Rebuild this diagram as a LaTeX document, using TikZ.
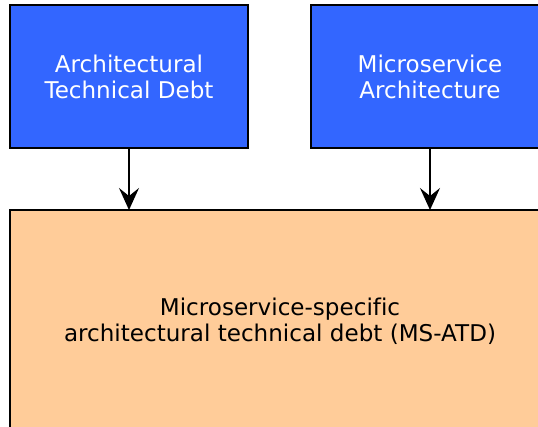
\documentclass[tikz,border=0pt]{standalone}
\usepackage{fontspec}
\setmainfont[Ligatures=NoCommon]{DejaVu Sans}
\usetikzlibrary{arrows.meta}
\definecolor{boxblue}{HTML}{3366FF}
\definecolor{boxorange}{HTML}{FFCC99}
\begin{document}
\begin{tikzpicture}[x=0.75pt,y=-0.75pt,
  box/.style={draw=black,line width=1.1pt,inner sep=0pt},
  bluebox/.style={box,fill=boxblue},
  orangebox/.style={box,fill=boxorange},
  label/.style={align=center,font=\fontsize{17.3pt}{19.5pt}\selectfont},
  link/.style={line width=1.1pt,-{Stealth[length=16.5pt,width=15pt,inset=6pt]}}]
\useasboundingbox (0,0) rectangle (538,426);
\clip (0,0) rectangle (538,426);
% two source boxes
\draw[bluebox] (10,5) rectangle (248,148);
\draw[bluebox] (311,5) rectangle (549,148);
\coordinate (atdBottom) at (129,148);
\coordinate (msaBottom) at (430,148);
\node[label,text=white] (atd) at (129,77) {Architectural\\Technical Debt};
\node[label,text=white] (msa) at (430,77) {Microservice\\Architecture};
% combined box
\draw[orangebox] (10,210) rectangle (550,440);
\coordinate (msTopL) at (129,210);
\coordinate (msTopR) at (430,210);
\node[label,text=black] (msatd) at (280,321) {Microservice-specific\\architectural technical debt (MS-ATD)};
% connectors
\draw[link] (atdBottom) -- (msTopL);
\draw[link] (msaBottom) -- (msTopR);
\end{tikzpicture}
\end{document}
